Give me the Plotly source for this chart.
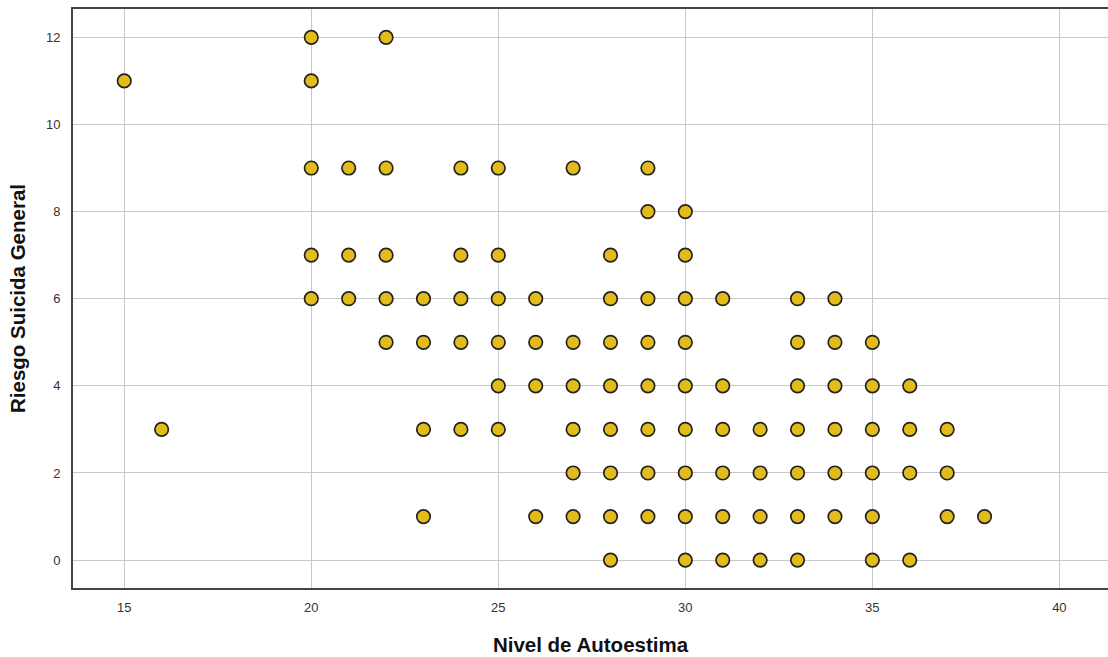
import plotly.graph_objects as go

# Observed (Nivel de Autoestima, Riesgo Suicida General) pairs, grouped by risk score
autoestima = [
    20, 22,                                           # 12
    15, 20,                                           # 11
    20, 21, 22, 24, 25, 27, 29,                       # 9
    29, 30,                                           # 8
    20, 21, 22, 24, 25, 28, 30,                       # 7
    20, 21, 22, 23, 24, 25, 26, 28, 29, 30, 31, 33, 34,   # 6
    22, 23, 24, 25, 26, 27, 28, 29, 30, 33, 34, 35,       # 5
    25, 26, 27, 28, 29, 30, 31, 33, 34, 35, 36,           # 4
    16, 23, 24, 25, 27, 28, 29, 30, 31, 32, 33, 34, 35, 36, 37,  # 3
    27, 28, 29, 30, 31, 32, 33, 34, 35, 36, 37,           # 2
    23, 26, 27, 28, 29, 30, 31, 32, 33, 34, 35, 37, 38,   # 1
    28, 30, 31, 32, 33, 35, 36,                           # 0
]
riesgo = (
    [12] * 2 + [11] * 2 + [9] * 7 + [8] * 2 + [7] * 7 + [6] * 13 +
    [5] * 12 + [4] * 11 + [3] * 15 + [2] * 11 + [1] * 13 + [0] * 7
)

x_ticks = [15, 20, 25, 30, 35, 40]
y_ticks = [0, 2, 4, 6, 8, 10, 12]

fig = go.Figure(
    go.Scatter(
        x=autoestima,
        y=riesgo,
        mode="markers",
        marker=dict(
            size=13.5,
            color="#E3BC1C",
            line=dict(color="#222222", width=1.7),
        ),
        showlegend=False,
    )
)

fig.update_layout(
    width=1108,
    height=657,
    margin=dict(l=73, r=0, t=9, b=69),
    paper_bgcolor="white",
    plot_bgcolor="white",
    font=dict(family="Liberation Sans, Arial, sans-serif", color="#333333"),
)

fig.update_xaxes(
    range=[13.63, 41.3],
    tickvals=x_ticks,
    ticktext=[str(v) for v in x_ticks],
    tickfont=dict(size=13, color="#333333"),
    ticklabelstandoff=6,
    showgrid=True,
    gridcolor="#c8c8c8",
    gridwidth=1,
    zeroline=False,
    showline=True,
    linecolor="#444444",
    linewidth=2,
    mirror=True,
    ticks="",
    title=dict(
        text="<b>Nivel de Autoestima</b>",
        font=dict(size=20.5, color="#111111"),
        standoff=24,
    ),
)

fig.update_yaxes(
    range=[-0.64, 12.65],
    tickvals=y_ticks,
    ticktext=[str(v) for v in y_ticks],
    tickfont=dict(size=13, color="#333333"),
    showgrid=True,
    gridcolor="#c8c8c8",
    gridwidth=1,
    zeroline=False,
    showline=True,
    linecolor="#444444",
    linewidth=2,
    ticks="",
    ticklabelstandoff=8,
    title=dict(
        text="<b>Riesgo Suicida General</b>",
        font=dict(size=20.5, color="#111111"),
        standoff=15,
    ),
)

fig.write_html("out.html")
